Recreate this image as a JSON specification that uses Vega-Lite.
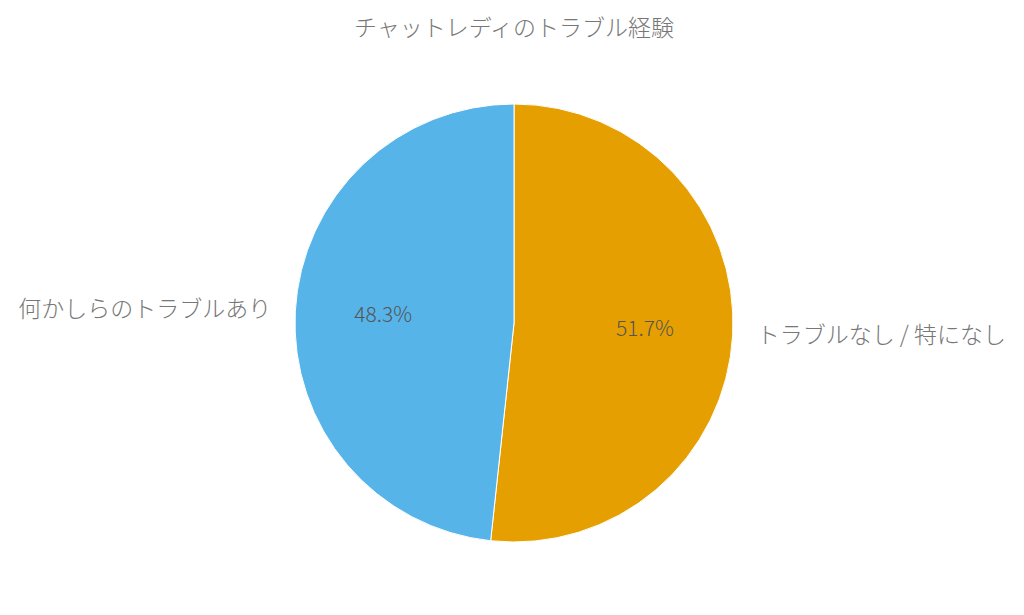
{
  "$schema": "https://vega.github.io/schema/vega-lite/v6.json",
  "autosize": "none",
  "width": 1028,
  "height": 546,
  "padding": {"top": 50, "left": 0, "right": 0, "bottom": 0},
  "background": "white",
  "title": {
    "text": "チャットレディのトラブル経験",
    "font": "Noto Sans CJK JP",
    "fontWeight": 300,
    "fontSize": 23,
    "color": "#777777",
    "anchor": "middle",
    "offset": 9
  },
  "data": {
    "values": [
      {"category": "トラブルなし / 特になし", "share": 51.7, "order": 1, "side": "right"},
      {"category": "何かしらのトラブルあり", "share": 48.3, "order": 2, "side": "left"}
    ]
  },
  "encoding": {
    "theta": {"field": "share", "type": "quantitative", "stack": true},
    "order": {"field": "order", "type": "quantitative"}
  },
  "layer": [
    {
      "mark": {"type": "arc", "outerRadius": 219, "stroke": "white", "strokeWidth": 1},
      "encoding": {
        "color": {
          "field": "category",
          "type": "nominal",
          "scale": {
            "domain": ["トラブルなし / 特になし", "何かしらのトラブルあり"],
            "range": ["#E69F00", "#56B4E9"]
          },
          "legend": null
        }
      }
    },
    {
      "transform": [{"calculate": "format(datum.share, '.1f') + '%'", "as": "pct"}],
      "mark": {
        "type": "text",
        "radius": 131,
        "font": "Noto Sans CJK JP",
        "fontWeight": 300,
        "fontSize": 21,
        "color": "#555555",
        "baseline": "middle"
      },
      "encoding": {"text": {"field": "pct"}}
    },
    {
      "mark": {
        "type": "text",
        "radius": 243,
        "align": {"expr": "datum.side == 'left' ? 'right' : 'left'"},
        "baseline": "middle",
        "font": "Noto Sans CJK JP",
        "fontWeight": 300,
        "fontSize": 23,
        "color": "#777777"
      },
      "encoding": {"text": {"field": "category"}}
    }
  ],
  "config": {"view": {"stroke": null}}
}
